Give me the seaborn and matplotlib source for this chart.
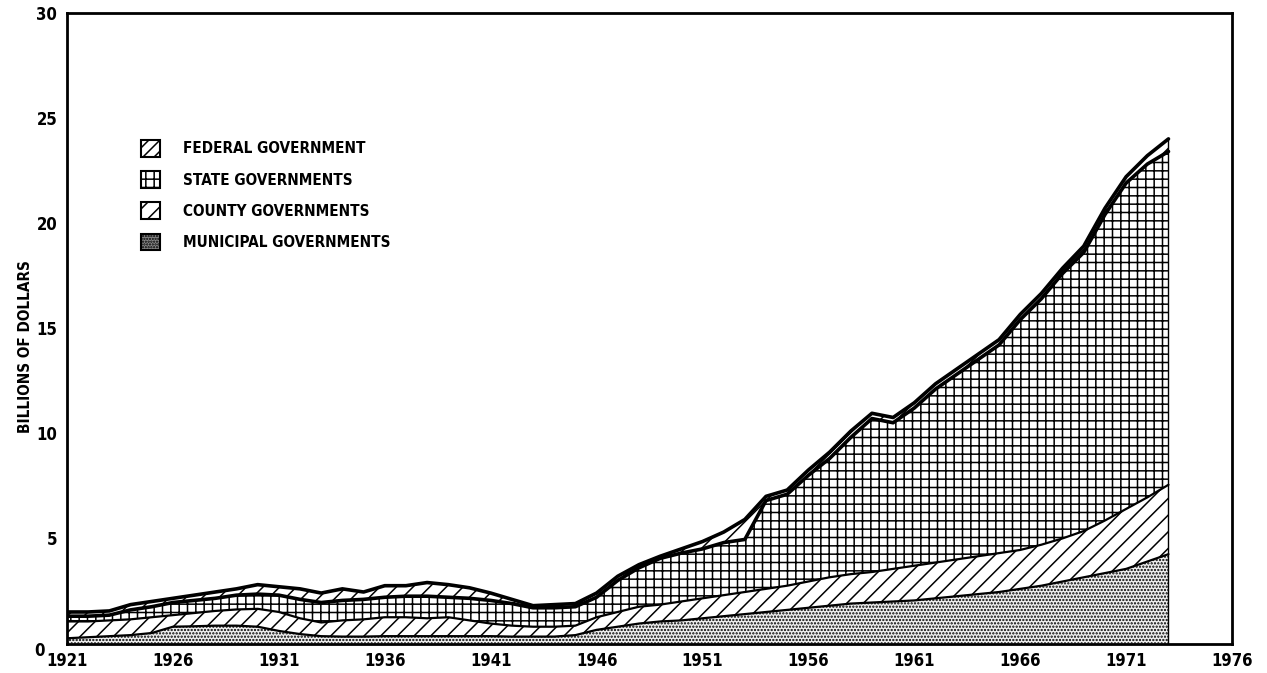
import numpy as np
import pandas as pd
import matplotlib
matplotlib.use("Agg")
import matplotlib.pyplot as plt
import matplotlib.transforms as mtransforms
from matplotlib.patches import Patch
import seaborn as sns

# years of the series
years = list(range(1921, 1974))

# billions of dollars, each layer on its own (stacked bottom -> top)
municipal = [0.25, 0.30, 0.35, 0.40, 0.50, 0.80, 0.82, 0.85, 0.85, 0.80,
             0.60, 0.45, 0.35, 0.33, 0.33, 0.35, 0.35, 0.35, 0.35, 0.35,
             0.35, 0.33, 0.33, 0.33, 0.40, 0.65, 0.80, 0.95, 1.05, 1.10,
             1.20, 1.30, 1.40, 1.50, 1.60, 1.70, 1.80, 1.90, 1.95, 2.00,
             2.05, 2.15, 2.25, 2.35, 2.45, 2.60, 2.75, 2.95, 3.15, 3.35,
             3.55, 3.90, 4.25]
county = [0.80, 0.75, 0.75, 0.75, 0.75, 0.55, 0.63, 0.70, 0.77, 0.85,
          0.90, 0.75, 0.65, 0.77, 0.82, 0.90, 0.90, 0.85, 0.90, 0.75,
          0.60, 0.52, 0.47, 0.47, 0.45, 0.60, 0.70, 0.80, 0.80, 0.90,
          0.95, 1.00, 1.05, 1.10, 1.15, 1.25, 1.35, 1.40, 1.45, 1.55,
          1.65, 1.70, 1.75, 1.80, 1.85, 1.85, 1.95, 2.05, 2.20, 2.50,
          2.85, 3.05, 3.30]
state = [0.25, 0.25, 0.25, 0.45, 0.50, 0.60, 0.60, 0.60, 0.68, 0.70,
         0.80, 0.90, 0.95, 0.95, 0.95, 0.95, 1.00, 1.05, 0.95, 1.05,
         1.10, 1.05, 0.90, 0.90, 0.90, 0.95, 1.50, 1.85, 2.20, 2.30,
         2.35, 2.50, 2.50, 4.20, 4.35, 5.05, 5.65, 6.50, 7.30, 6.95,
         7.50, 8.25, 8.80, 9.35, 9.90, 10.95, 11.70, 12.60, 13.25, 14.55,
         15.50, 15.85, 15.85]
federal = [0.20, 0.20, 0.20, 0.25, 0.25, 0.20, 0.25, 0.30, 0.30, 0.45,
           0.40, 0.50, 0.45, 0.55, 0.35, 0.55, 0.50, 0.65, 0.60, 0.50,
           0.35, 0.20, 0.10, 0.15, 0.15, 0.20, 0.20, 0.15, 0.10, 0.20,
           0.35, 0.50, 0.95, 0.20, 0.20, 0.25, 0.30, 0.30, 0.25, 0.25,
           0.25, 0.25, 0.25, 0.25, 0.25, 0.25, 0.25, 0.25, 0.30, 0.30,
           0.30, 0.40, 0.60]

labels = ["MUNICIPAL GOVERNMENTS", "COUNTY GOVERNMENTS",
          "STATE GOVERNMENTS", "FEDERAL GOVERNMENT"]
hatches = [".....", "//", "++", "//"]
x_ticks = list(range(1921, 1977, 5))
y_ticks = [0, 5, 10, 15, 20, 25, 30]

df = pd.DataFrame({"year": years, "municipal": municipal, "county": county,
                   "state": state, "federal": federal})
layers = ["municipal", "county", "state", "federal"]
tops = df[layers].cumsum(axis=1)

sns.set_style("white")
plt.rcParams["font.family"] = ["DejaVu Sans"]
plt.rcParams["font.stretch"] = "condensed"
plt.rcParams["font.weight"] = "bold"
plt.rcParams["text.color"] = "black"
plt.rcParams["xtick.color"] = "black"
plt.rcParams["ytick.color"] = "black"
plt.rcParams["axes.labelcolor"] = "black"
plt.rcParams["hatch.linewidth"] = 1.1

fig = plt.figure(figsize=(12.67, 6.73), dpi=100)
ax = fig.add_axes([0.0529, 0.0438, 0.9195, 0.9373])

bottom = np.zeros(len(df))
for name, hatch in zip(layers, hatches):
    top = tops[name].to_numpy()
    fc = "#efefef" if name == "municipal" else "white"
    ax.fill_between(df["year"], bottom, top, facecolor=fc, edgecolor="black",
                    hatch=hatch, linewidth=0)
    bottom = top

# layer boundaries
for name in layers:
    lw = 2.6 if name in ("state", "federal") else 1.6
    sns.lineplot(x=df["year"], y=tops[name], color="black", lw=lw, ax=ax)
ax.vlines(1973, 0, tops["federal"].iloc[-1], color="black", lw=1)

ax.set_xlim(1921, 1976)
ax.set_ylim(0, 30)
ax.set_xticks(x_ticks)
ax.set_yticks(y_ticks)
ax.tick_params(axis="y", direction="in", length=22, width=1.6, labelsize=12, pad=7)
ax.tick_params(axis="x", direction="in", length=19, width=1.6, labelsize=12, pad=6)
ax.set_xlabel("")
ax.set_ylabel("BILLIONS OF DOLLARS", fontsize=11, fontweight="bold")
ax.yaxis.set_label_coords(-0.029, 0.47)
for s in ax.spines.values():
    s.set_visible(True)
    s.set_color("black")
    s.set_linewidth(2)

# nudge the "0" label left so it clears "1921"
zero = ax.get_yticklabels()[0]
zero.set_transform(zero.get_transform() +
                   mtransforms.ScaledTranslation(-9 / 72, -4 / 72, fig.dpi_scale_trans))

handles = [Patch(facecolor="white", edgecolor="black", hatch="///", lw=1.5),
           Patch(facecolor="white", edgecolor="black", hatch="++", lw=1.5),
           Patch(facecolor="white", edgecolor="black", hatch="//", lw=1.5),
           Patch(facecolor="#888888", edgecolor="black", hatch="......", lw=1.5)]
ax.legend(handles, labels[::-1], loc="upper left", bbox_to_anchor=(0.052, 0.82),
          frameon=False, fontsize=11, handlelength=1.2, handleheight=1.3,
          labelspacing=0.95, handletextpad=1.5)

fig.savefig("out.png", dpi=100)
